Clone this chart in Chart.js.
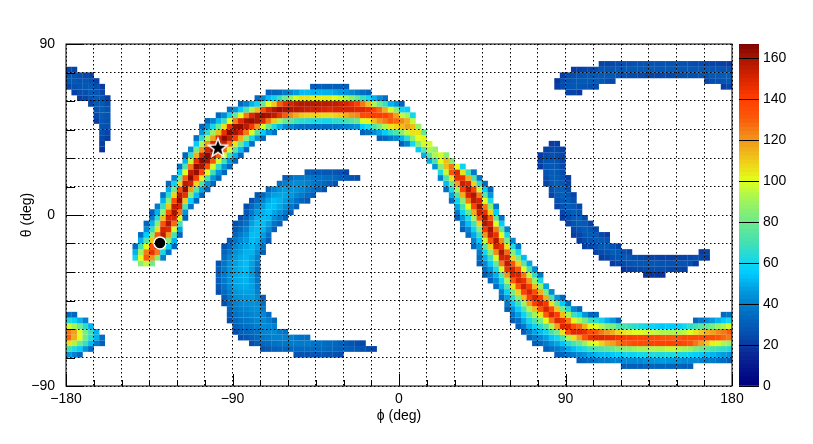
<!DOCTYPE html>
<html>
<head>
<meta charset="utf-8">
<title>phi theta map</title>
<script src="https://cdn.jsdelivr.net/npm/chart.js@4"></script>
<style>
  html, body { margin: 0; padding: 0; background: #fff; }
  #wrap { position: relative; width: 813px; height: 444px; }
  #mapChart { position: absolute; left: 0; top: 0; }
  #barChart { position: absolute; left: 739px; top: 0; }
</style>
</head>
<body>
<div id="wrap">
  <canvas id="mapChart" width="813" height="444"></canvas>
  <canvas id="barChart" width="74" height="444"></canvas>
</div>
<script>
// 3 x 3 degree bins. Each row: [phi bin, first theta bin, counts going up in theta...]
const phiLow = -180;
const thetaLow = -90;
const binDeg = 3;

const mainBand = [
  [12,22,60,50,35],
  [13,21,85,100,90,70,50,35],
  [14,21,95,130,125,100,75,55,42,32],
  [15,21,80,120,145,135,110,85,65,50,38,30],
  [16,22,85,125,150,150,130,105,85,65,50,38],
  [17,22,40,60,95,135,155,150,133,112,88,67,50,36],
  [18,23,36,57,84,120,147,158,150,134,110,85,65,49,35],
  [19,24,33,50,70,98,128,150,160,155,135,108,80,58,41],
  [20,26,32,48,70,98,125,150,162,156,135,108,80,56,37],
  [21,29,32,45,72,110,145,163,155,130,100,72,50,32],
  [22,31,37,56,85,118,150,164,155,125,95,66,42],
  [23,32,33,52,75,108,140,162,163,145,115,82,55,35],
  [24,33,33,48,72,103,138,160,164,150,120,92,65,45,33],
  [25,34,33,45,70,100,135,160,164,150,120,92,65,45,33],
  [26,35,33,45,68,98,132,158,164,150,118,88,60,40],
  [27,36,33,44,66,97,130,156,164,150,112,80,52,33],
  [28,37,33,45,68,97,128,154,164,145,105,68,42],
  [29,38,33,46,68,98,128,154,164,145,100,60,36],
  [30,39,33,50,75,105,140,160,162,125,78,44],
  [31,40,33,52,78,115,150,163,148,100,55,33],
  [32,41,33,55,85,125,155,160,125,72,40],
  [33,42,36,60,98,142,162,148,92,50],
  [34,43,45,72,120,158,158,112,58,33],
  [35,43,33,55,98,148,162,135,78,42],
  [36,44,44,78,125,160,150,100,52,30],
  [37,44,36,62,110,155,158,110,58,32],
  [38,45,50,90,145,162,130,68,33],
  [39,45,42,78,130,160,145,80,38],
  [40,45,40,75,122,158,150,88,42],
  [41,45,37,68,115,157,155,98,46],
  [42,45,35,65,110,155,157,105,52],
  [43,45,35,63,108,153,157,105,52],
  [44,45,35,62,108,152,157,103,50,30],
  [45,45,35,62,108,152,156,103,50,30],
  [46,45,34,60,106,150,156,103,50,30],
  [47,45,35,60,106,148,155,103,50,30],
  [48,45,36,64,108,150,154,100,48,30],
  [49,45,38,66,110,150,152,96,46,30],
  [50,45,40,70,115,150,150,92,44,30],
  [51,45,42,74,120,150,146,85,42],
  [52,45,44,78,122,148,140,78,38],
  [53,44,32,56,98,135,148,125,68,35],
  [54,44,36,62,102,135,145,112,60,32],
  [55,44,42,72,112,140,138,92,50],
  [56,43,30,48,82,120,140,128,80,42],
  [57,43,33,55,92,125,138,115,68,36],
  [58,43,38,65,105,130,130,98,50],
  [59,43,42,72,108,128,118,85,45],
  [60,42,30,50,85,112,122,95,58,32],
  [61,42,40,65,95,118,115,90,55],
  [62,42,60,85,105,112,95,60],
  [63,41,55,85,100,105,88],
  [64,40,50,75,98,102,78],
  [65,39,50,75,92,98],
  [66,38,45,70,92,88],
  [67,36,40,62,85,100,98],
  [68,34,35,52,72,95,112,112,85],
  [69,32,35,48,62,80,105,132,125,85],
  [70,29,30,38,48,58,72,90,118,145,148,100],
  [71,27,30,38,46,58,70,85,115,140,152,145,105,58],
  [72,26,35,42,52,62,78,100,125,150,158,148,115,68],
  [73,24,33,40,48,58,70,90,115,138,155,158,138,108,72,38],
  [74,21,30,34,38,45,55,68,85,108,132,152,160,150,125,95,65,38],
  [75,19,30,36,42,50,60,75,95,120,142,158,160,145,125,100,75,55,35],
  [76,18,32,38,45,55,68,85,108,132,155,160,150,130,108,85,62,45,32],
  [77,17,35,42,50,62,78,98,122,150,158,145,125,100,78,55,38],
  [78,15,33,40,50,60,75,98,125,150,158,145,122,100,78,55,38],
  [79,13,30,38,46,57,72,92,120,145,155,150,128,105,82,60,40],
  [80,11,30,36,44,54,66,82,105,130,150,150,132,108,85,62,42],
  [81,10,30,36,46,56,68,85,108,132,150,150,132,108,82,60,38],
  [82,9,30,38,48,58,72,90,112,138,152,145,125,100,75,52],
  [83,8,32,40,50,60,75,92,118,140,150,140,120,95,70,48],
  [84,7,30,38,48,58,72,90,112,140,150,135,112,88,65,42],
  [85,7,33,42,52,65,82,105,132,150,140,115,88,62,38],
  [86,6,30,38,47,58,75,100,130,150,142,115,82,48],
  [87,6,35,44,54,70,92,125,150,135,105,70,42],
  [88,5,30,38,48,60,80,118,148,140,110,78,45],
  [89,5,32,42,54,72,105,148,145,112,82,55,33],
  [90,5,36,48,64,92,135,148,125,92,62,36],
  [91,5,38,52,72,105,148,135,102,68,40],
  [92,4,30,42,58,78,118,148,128,92,60,32],
  [93,4,32,45,62,88,132,145,115,82,45],
  [94,4,34,48,68,98,145,135,102,68,33],
  [95,4,36,50,70,100,148,132,100,65,33],
  [96,4,38,52,72,108,148,125,92,58],
  [97,4,38,52,75,115,146,120,85,50],
  [98,4,40,54,78,118,145,115,82,45],
  [99,4,40,56,82,125,142,108,72,33],
  [100,3,30,42,58,85,130,140,105,70],
  [101,3,30,42,58,85,132,140,103,68],
  [102,3,30,42,58,88,135,138,100,65],
  [103,3,30,42,60,90,135,138,100,62],
  [104,3,32,44,60,90,135,138,98,60],
  [105,3,32,44,62,92,138,135,96,58],
  [106,3,32,45,62,92,138,135,95,56],
  [107,3,32,46,62,92,138,132,92,54],
  [108,3,32,45,62,95,138,132,92,55],
  [109,3,32,45,62,95,138,130,92,55],
  [110,3,32,44,60,92,138,132,92,56],
  [111,3,30,42,60,90,135,135,95,60],
  [112,3,30,42,58,88,132,135,100,65],
  [113,4,42,56,82,125,135,105,70,33],
  [114,4,40,54,78,118,135,110,75,38],
  [115,4,38,52,75,110,135,115,78,42],
  [116,4,38,50,70,102,135,118,82,46],
  [117,4,36,48,68,98,132,122,88,50],
  [118,4,34,46,65,92,128,125,92,55,33],
  [119,4,30,44,62,88,125,130,98,60,36],
];

const leftBlob = [
  [0,5,45,68,105,128,125,98,62,35],
  [1,5,40,62,92,115,118,90,58,33],
  [2,5,33,55,80,100,100,80,50],
  [3,6,45,68,80,82,65,40],
  [4,6,33,52,65,68,50],
  [5,7,38,50,50],
  [6,7,30,35],
];

const topLeftArc = [
  [0,52,23,26,26,22],
  [1,51,21,25,27,26,22],
  [2,50,20,24,26,26,24],
  [3,50,22,25,27,27,23],
  [4,49,22,26,28,28,25,21],
  [5,46,20,23,26,28,28,27,24,21],
  [6,41,18,21,23,25,26,27,28,29,28,26,23,20],
  [7,43,20,23,25,25,26,26,24,21],
];

const topRightStrip = [
  [88,52,20,18],
  [89,52,24,24,20],
  [90,51,22,26,26,24],
  [91,51,22,27,27,25,20],
  [92,51,20,27,28,26,21],
  [93,52,26,28,27,22],
  [94,52,25,28,28,23],
  [95,52,24,28,28,24],
  [96,53,27,28,27,22],
  [97,53,25,28,27,22],
  [98,53,23,28,27,23],
  [99,54,26,28,24],
  [100,54,25,28,25],
  [101,54,24,28,25],
  [102,54,24,28,26],
  [103,54,23,28,26],
  [104,54,22,28,26],
  [105,54,22,28,26],
  [106,54,22,28,26],
  [107,54,23,28,26],
  [108,54,23,28,26],
  [109,54,23,28,26],
  [110,54,24,28,26],
  [111,54,25,28,26],
  [112,54,25,28,25],
  [113,54,25,28,24],
  [114,54,26,28,24],
  [115,53,22,26,28,23],
  [116,53,24,28,27,22],
  [117,53,25,28,27,22],
  [118,52,20,26,29,26,21],
  [119,52,22,27,29,26,20],
];

const rightArc = [
  [85,38,20,22,20],
  [86,35,22,24,26,27,26,24,21],
  [87,33,22,25,28,29,29,28,27,25,23,20],
  [88,31,22,25,28,30,30,29,28,27,26,24,23,20],
  [89,29,20,23,26,28,30,30,28,26,24,23,22,22,21],
  [90,28,22,24,27,29,29,27,24,22,20],
  [91,26,20,23,26,29,30,28,25,22],
  [92,25,20,23,26,29,30,28,23],
  [93,24,21,24,27,29,28,24],
  [94,24,22,26,29,27,22],
  [95,23,22,25,28,28,23],
  [96,22,20,24,28,28,23],
  [97,22,22,26,29,26,20],
  [98,21,20,25,29,26],
  [99,21,22,27,28,22],
  [100,20,18,24,28,25],
  [101,20,21,26,27,22],
  [102,20,22,27,25],
  [103,20,23,27,23],
  [104,19,18,24,27,22],
  [105,19,18,24,27,22],
  [106,19,18,24,27,22],
  [107,19,18,24,26,21],
  [108,20,23,26,21],
  [109,20,22,26,21],
  [110,20,22,26,22],
  [111,20,21,26,22],
  [112,21,25,23],
  [113,21,20,25],
  [114,22,23,20],
  [115,22,20,22],
];

const crescent = [
  [27,16,25,28,30,31,30,26],
  [28,14,25,29,33,36,38,38,38,37,35,32,26],
  [29,11,24,28,32,34,37,39,42,44,45,45,44,42,38,33,28],
  [30,9,24,30,33,36,38,40,43,45,47,48,48,48,47,46,44,41,37,33,28,25],
  [31,8,25,30,33,36,38,40,42,44,46,48,49,50,50,50,49,47,45,42,38,34,30,26],
  [32,8,27,32,35,37,39,41,43,45,47,49,50,51,52,52,51,50,48,46,43,40,36,32,28,24],
  [33,7,24,30,34,37,39,41,43,44,46,47,47,46,46,46,47,48,50,51,52,52,50,47,43,38,33,26],
  [34,7,28,33,36,39,41,42,43,43,42,40,38,37,36,36,38,40,43,47,50,52,52,52,50,46,40,34,27],
  [35,6,26,33,37,40,42,42,41,38,35,30],
  [35,23,30,36,41,46,50,52,52,50,46,40,33],
  [36,6,28,34,38,41,41,39,34],
  [36,25,30,36,42,47,51,53,52,48,42,33],
  [37,6,30,36,40,42,40,33],
  [37,27,30,37,43,48,52,52,47,40],
  [38,6,32,37,40,38],
  [38,28,30,38,44,48,50,48,44,36],
  [39,6,32,37,40,36],
  [39,29,32,38,43,46,48,46,40,30],
  [40,6,33,38,40],
  [40,30,30,37,42,45,45,42,34],
  [41,5,26,34,38,37],
  [41,31,30,36,41,44,43,38],
  [42,5,26,34,38,36],
  [42,32,32,38,42,42,38],
  [43,5,26,34,38,35],
  [43,32,28,34,38,40,38,28],
  [44,5,27,34,37],
  [44,33,30,36,38,36,28],
  [45,5,27,34,36],
  [45,34,32,36,36,28],
  [46,5,27,34,35],
  [46,34,26,33,35,28],
  [47,5,26,33,34],
  [47,35,30,34,28],
  [48,5,25,32,33],
  [48,35,26,33,27],
  [49,5,24,31,30],
  [49,36,30,26],
  [50,6,30,28],
  [50,36,28,22],
  [51,6,29,26],
  [51,36,26],
  [52,6,27,24],
  [52,36,24],
  [53,6,26,23],
  [54,6,24],
  [55,6,22],
];

const xTickLabels = { '-180': '\u2212180', '-90': '\u221290', '0': '0', '90': '90', '180': '180' };
const yTickLabels = { '-90': '\u221290', '0': '0', '90': '90' };
const colorbarTicks = [0, 20, 40, 60, 80, 100, 120, 140, 160];
const knownPhi = [-129.2];
const knownTheta = [-14.7];
const starPhi = [-97.9];
const starTheta = [35.4];

const zMax = 167;
const paletteValues = [0, 15, 25, 35, 45, 55, 60, 70, 80, 90, 100, 108, 120, 130, 140, 150, 160, 167];
const paletteColors = [
  [0, 0, 128], [10, 40, 150], [5, 80, 175], [0, 110, 195], [0, 150, 220], [0, 205, 255],
  [20, 215, 235], [70, 225, 175], [110, 235, 140], [160, 245, 90], [225, 255, 25], [240, 210, 25],
  [240, 150, 25], [250, 90, 10], [255, 60, 0], [215, 35, 0], [165, 20, 0], [125, 0, 0],
];

function colorFor(value) {
  let k = 0;
  while (k < paletteValues.length - 2 && value > paletteValues[k + 1]) k++;
  const t = Math.min(1, (value - paletteValues[k]) / (paletteValues[k + 1] - paletteValues[k]));
  const a = paletteColors[k];
  const b = paletteColors[k + 1];
  return `rgb(${Math.round(a[0] + (b[0] - a[0]) * t)},${Math.round(a[1] + (b[1] - a[1]) * t)},${Math.round(a[2] + (b[2] - a[2]) * t)})`;
}

function toCells(columns) {
  const cells = [];
  columns.forEach((col) => {
    const phi = phiLow + (col[0] + 0.5) * binDeg;
    col.slice(2).forEach((v, n) => {
      cells.push({ x: phi, y: thetaLow + (col[1] + n + 0.5) * binDeg, v });
    });
  });
  return cells;
}

function makeStar() {
  const c = document.createElement('canvas');
  c.width = 24;
  c.height = 24;
  const ctx = c.getContext('2d');
  ctx.beginPath();
  for (let i = 0; i < 10; i++) {
    const r = i % 2 === 0 ? 10 : 4.2;
    const a = -Math.PI / 2 + (i * Math.PI) / 5;
    ctx.lineTo(12 + r * Math.cos(a), 12.5 + r * Math.sin(a));
  }
  ctx.closePath();
  ctx.fillStyle = '#000';
  ctx.strokeStyle = '#fff';
  ctx.lineWidth = 1.5;
  ctx.fill();
  ctx.stroke();
  return c;
}

// ROOT style ticks sit inside the frame
const frameTicks = {
  id: 'frameTicks',
  afterDraw(chart) {
    const { ctx, chartArea, scales } = chart;
    ctx.save();
    ctx.strokeStyle = '#000';
    ctx.lineWidth = 1;
    ctx.beginPath();
    scales.x.ticks.forEach((t) => {
      const px = Math.round(scales.x.getPixelForValue(t.value)) + 0.5;
      ctx.moveTo(px, chartArea.bottom);
      ctx.lineTo(px, chartArea.bottom - (t.value % 90 === 0 ? 12 : 6));
    });
    scales.y.ticks.forEach((t) => {
      const py = Math.round(scales.y.getPixelForValue(t.value)) + 0.5;
      ctx.moveTo(chartArea.left, py);
      ctx.lineTo(chartArea.left + (t.value % 90 === 0 ? 18 : 9), py);
    });
    ctx.stroke();
    ctx.strokeRect(chartArea.left, chartArea.top, chartArea.right - chartArea.left, chartArea.bottom - chartArea.top);
    ctx.restore();
  },
};

const labelFont = { family: '"Liberation Sans", Arial, sans-serif', size: 14 };
const gridStyle = { color: '#000', lineWidth: 1, drawTicks: false, z: 1 };
const gridBorder = { display: false, dash: [1.5, 2.5] };

new Chart(document.getElementById('mapChart').getContext('2d'), {
  type: 'scatter',
  data: {
    datasets: [
      {
        label: 'known',
        order: 0,
        data: knownPhi.map((p, i) => ({ x: p, y: knownTheta[i] })),
        pointStyle: 'circle',
        pointRadius: 6,
        pointBackgroundColor: '#000',
        pointBorderColor: '#fff',
        pointBorderWidth: 1.5,
      },
      {
        label: 'star',
        order: 0,
        data: starPhi.map((p, i) => ({ x: p, y: starTheta[i] })),
        pointStyle: makeStar(),
      },
      {
        label: 'counts',
        order: 1,
        data: toCells([...mainBand, ...leftBlob, ...topLeftArc, ...topRightStrip, ...rightArc, ...crescent]),
        pointStyle: 'rect',
        pointRadius: 4.1,
        pointBorderWidth: 0,
        pointBackgroundColor: (c) => colorFor(c.raw.v),
      },
    ],
  },
  options: {
    responsive: false,
    animation: false,
    layout: { padding: { top: 44, right: 81 } },
    plugins: { legend: { display: false }, tooltip: { enabled: false } },
    scales: {
      x: {
        min: -180,
        max: 180,
        grid: gridStyle,
        border: gridBorder,
        afterFit(scale) { scale.height = 58; },
        ticks: {
          stepSize: 15,
          autoSkip: false,
          maxRotation: 0,
          padding: 5,
          color: '#000',
          font: labelFont,
          callback: (v) => xTickLabels[v] || '',
        },
        title: { display: true, text: '\u03D5 (deg)', color: '#000', font: labelFont, padding: { top: 0, bottom: 19 } },
      },
      y: {
        min: -90,
        max: 90,
        grid: gridStyle,
        border: gridBorder,
        afterFit(scale) { scale.width = 66; },
        ticks: {
          stepSize: 15,
          autoSkip: false,
          padding: 11,
          color: '#000',
          font: labelFont,
          callback: (v) => yTickLabels[v] || '',
        },
        title: { display: true, text: '\u03B8 (deg)', color: '#000', font: labelFont, padding: { top: 19, bottom: 0 } },
      },
    },
  },
  plugins: [frameTicks],
});

// colour scale, one thin floating bar per level
const barLevels = [];
for (let z = 0; z < zMax; z += 2) barLevels.push(z);

new Chart(document.getElementById('barChart').getContext('2d'), {
  type: 'bar',
  data: {
    labels: [''],
    datasets: barLevels.map((z) => ({
      data: [[z, z + 2.4]],
      backgroundColor: colorFor(z + 1),
      borderWidth: 0,
      grouped: false,
      barPercentage: 1,
      categoryPercentage: 1,
    })),
  },
  options: {
    responsive: false,
    animation: false,
    layout: { padding: { top: 44, bottom: 58 } },
    plugins: { legend: { display: false }, tooltip: { enabled: false } },
    scales: {
      x: { display: false },
      y: {
        position: 'right',
        min: 0,
        max: zMax,
        grid: { color: '#000', lineWidth: 1, drawTicks: false, z: 1 },
        border: { display: false },
        afterFit(scale) { scale.width = 54; },
        afterBuildTicks(scale) { scale.ticks = colorbarTicks.map((value) => ({ value })); },
        ticks: { padding: 4, color: '#000', font: labelFont },
      },
    },
  },
});
</script>
</body>
</html>
